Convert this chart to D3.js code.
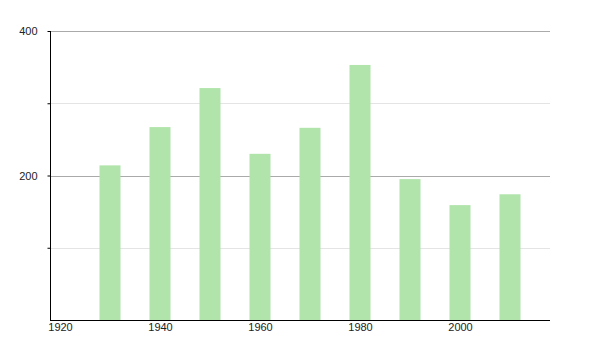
<!DOCTYPE html>
<html>
<head>
<meta charset="utf-8">
<script src="https://cdn.jsdelivr.net/npm/d3@7"></script>
<style>
  body { margin: 0; background: #fff; }
  text { font-family: "Liberation Sans", Arial, sans-serif; font-size: 11px; fill: #222; }
</style>
</head>
<body>
<svg width="600" height="350"></svg>
<script>
const years = [1930, 1940, 1950, 1960, 1970, 1980, 1990, 2000, 2010];
const values = [214, 267, 321, 230, 266, 353, 195, 159, 174];
const xTicks = [1920, 1940, 1960, 1980, 2000];
const yTicks = [100, 200, 300, 400];
const yLabels = [200, 400];

const svg = d3.select('svg');
const plotLeft = 50, plotRight = 550, plotTop = 31, plotBottom = 320;
const barWidth = 21;

const x = d3.scaleLinear().domain([1918, 2018]).range([plotLeft, plotRight]);
const y = d3.scaleLinear().domain([0, 400]).range([plotBottom, plotTop]);

// grid lines, major ones darker
svg.append('g')
  .selectAll('line')
  .data(yTicks)
  .join('line')
  .attr('x1', plotLeft)
  .attr('x2', plotRight)
  .attr('y1', d => Math.round(y(d)) + 0.5)
  .attr('y2', d => Math.round(y(d)) + 0.5)
  .attr('stroke', d => (yLabels.includes(d) ? '#aaaaaa' : '#e4e4e4'))
  .attr('stroke-width', 1);

// bars
svg.append('g')
  .selectAll('rect')
  .data(years)
  .join('rect')
  .attr('x', d => x(d) - barWidth / 2)
  .attr('width', barWidth)
  .attr('y', (d, i) => y(values[i]))
  .attr('height', (d, i) => plotBottom - y(values[i]))
  .attr('fill', '#b0e4aa');

// y axis
const yAxis = svg.append('g')
  .attr('transform', `translate(${plotLeft + 0.5},0)`)
  .call(d3.axisLeft(y).tickValues(yTicks).tickSize(3)
    .tickFormat(d => (yLabels.includes(d) ? d : '')));
yAxis.select('.domain').attr('d', `M0,${plotTop}V${plotBottom}`).attr('stroke', '#000');
yAxis.selectAll('.tick line').attr('stroke', '#000');
yAxis.selectAll('.tick text').attr('x', -13).style('font-size', '11px');

// x axis
const xAxis = svg.append('g')
  .attr('transform', `translate(0,${plotBottom + 0.5})`)
  .call(d3.axisBottom(x).tickValues(xTicks).tickSize(0).tickFormat(d3.format('d')));
xAxis.select('.domain').attr('d', `M${plotLeft},0H${plotRight}`).attr('stroke', '#000');
xAxis.selectAll('.tick text').attr('y', 3).style('font-size', '11px');
</script>
</body>
</html>
